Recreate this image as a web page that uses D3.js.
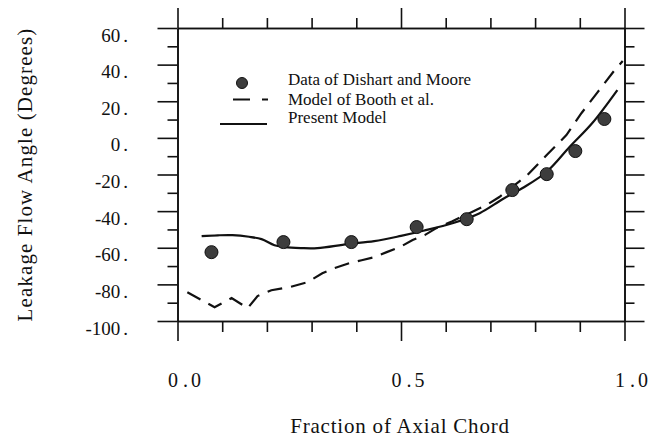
<!DOCTYPE html>
<html>
<head>
<meta charset="utf-8">
<script src="https://cdn.jsdelivr.net/npm/d3@7/dist/d3.min.js"></script>
<style>
  body { margin: 0; background: #fff; }
  svg { display: block; }
  text { font-family: "Liberation Serif", "Times New Roman", serif; fill: #111; }
</style>
</head>
<body>
<svg id="chart" width="659" height="438"></svg>
<script>
// Data of Dishart and Moore (measured points)
const dishartX = [0.076, 0.237, 0.389, 0.535, 0.647, 0.749, 0.826, 0.890, 0.955];
const dishartY = [-62.4, -56.9, -56.9, -48.7, -44.4, -28.5, -19.8, -7.2, 10.3];

// Model of Booth et al. (dashed)
const boothX = [0.022, 0.083, 0.121, 0.157, 0.179, 0.21, 0.251, 0.291, 0.324, 0.351, 0.385, 0.412,
  0.441, 0.468, 0.497, 0.526, 0.553, 0.579, 0.615, 0.653, 0.691, 0.72, 0.783, 0.826, 0.870, 0.904,
  0.940, 0.978, 0.996];
const boothY = [-84.3, -92.5, -87.5, -93.0, -86.4, -83.2, -81.5, -78.8, -73.9, -71.1, -68.4, -66.8,
  -65.1, -62.4, -59.7, -55.8, -53.1, -49.3, -45.5, -41.1, -36.7, -32.3, -20.3, -9.4, 1.5, 13.6,
  25.0, 37.0, 42.0];

// Present Model (solid)
const presentX = [0.054, 0.09, 0.123, 0.16, 0.188, 0.217, 0.24, 0.277, 0.313, 0.38, 0.44, 0.50,
  0.55, 0.615, 0.676, 0.727, 0.772, 0.826, 0.877, 0.928, 0.984];
const presentY = [-53.7, -53.2, -53.1, -54.0, -55.3, -58.6, -59.7, -60.2, -60.2, -58.0, -56.4, -53.5,
  -50.7, -46.6, -41.1, -33.5, -27.4, -18.5, -5.0, 8.1, 26.1];

const xLabelTicks = [0, 0.5, 1.0];
const xLabels = ["0.0", "0.5", "1.0"];
const xMinorTicks = d3.range(0, 11).map(i => i / 10);
const yMajorTicks = [60, 40, 20, 0, -20, -40, -60, -80, -100];
const yLabels = ["60", "40", "20", "0", "-20", "-40", "-60", "-80", "-100"];
const yMinorTicks = [50, 30, 10, -10, -30, -50, -70, -90];
const legendLabels = ["Data of Dishart and Moore", "Model of Booth et al.", "Present Model"];

const svg = d3.select("#chart");
const x = d3.scaleLinear().domain([0, 1]).range([177.5, 624.5]);
const y = d3.scaleLinear().domain([-100, 60]).range([321, 28]);

const xMajor = [0, 0.5, 1];
const xMinor = xMinorTicks.filter(v => !xMajor.some(m => Math.abs(m - v) < 1e-9));

const frame = svg.append("g").attr("class", "frame");

// tick-only axes on all four sides, ticks pointing outward
const addAxis = (gen, transform) => {
  const g = frame.append("g").attr("transform", transform).call(gen);
  g.selectAll("text").remove();
  g.selectAll("path, line").attr("stroke", "#111").attr("stroke-width", 1.6);
  return g;
};

addAxis(d3.axisTop(x).tickValues(xMajor).tickSize(20).tickSizeOuter(0), `translate(0,${y(60)})`);
addAxis(d3.axisTop(x).tickValues(xMinor).tickSize(10).tickSizeOuter(0), `translate(0,${y(60)})`);
addAxis(d3.axisBottom(x).tickValues(xMajor).tickSize(20).tickSizeOuter(0), `translate(0,${y(-100)})`);
addAxis(d3.axisBottom(x).tickValues(xMinor).tickSize(11).tickSizeOuter(0), `translate(0,${y(-100)})`);
addAxis(d3.axisLeft(y).tickValues(yMajorTicks).tickSize(20).tickSizeOuter(0), `translate(${x(0)},0)`);
addAxis(d3.axisLeft(y).tickValues(yMinorTicks).tickSize(10).tickSizeOuter(0), `translate(${x(0)},0)`);
addAxis(d3.axisRight(y).tickValues(yMajorTicks).tickSize(20).tickSizeOuter(0), `translate(${x(1)},0)`);
addAxis(d3.axisRight(y).tickValues(yMinorTicks).tickSize(10).tickSizeOuter(0), `translate(${x(1)},0)`);

// y tick labels, e.g. "60 ."
yMajorTicks.forEach((v, i) => {
  const t = svg.append("text")
    .attr("x", 128)
    .attr("y", y(v) + 13.5)
    .attr("text-anchor", "end")
    .attr("font-size", 19);
  t.append("tspan").text(yLabels[i]);
  t.append("tspan").attr("dx", 3).text(".");
});

// x tick labels, e.g. "0 . 0"
xLabelTicks.forEach((v, i) => {
  const parts = xLabels[i].split(".");
  const t = svg.append("text")
    .attr("x", x(v) + 7)
    .attr("y", 387)
    .attr("text-anchor", "middle")
    .attr("font-size", 20);
  t.append("tspan").text(parts[0]);
  t.append("tspan").attr("dx", 5).text(".");
  t.append("tspan").attr("dx", 3).text(parts[1]);
});

// axis titles
svg.append("text")
  .attr("x", 400)
  .attr("y", 433)
  .attr("text-anchor", "middle")
  .attr("font-size", 21)
  .attr("letter-spacing", 0.8)
  .text("Fraction of Axial Chord");

svg.append("text")
  .attr("transform", `translate(32,${(y(60) + y(-100)) / 2}) rotate(-90)`)
  .attr("text-anchor", "middle")
  .attr("font-size", 21)
  .attr("letter-spacing", 1.1)
  .text("Leakage Flow Angle (Degrees)");

// series
const plot = svg.append("g").attr("class", "plot");

const booth = boothX.map((v, i) => [v, boothY[i]]);
const present = presentX.map((v, i) => [v, presentY[i]]);
const dishart = dishartX.map((v, i) => [v, dishartY[i]]);

plot.append("path")
  .datum(booth)
  .attr("fill", "none")
  .attr("stroke", "#111")
  .attr("stroke-width", 2.2)
  .attr("stroke-dasharray", "15,9")
  .attr("d", d3.line().x(d => x(d[0])).y(d => y(d[1])));

plot.append("path")
  .datum(present)
  .attr("fill", "none")
  .attr("stroke", "#111")
  .attr("stroke-width", 2.2)
  .attr("d", d3.line().curve(d3.curveCatmullRom).x(d => x(d[0])).y(d => y(d[1])));

plot.selectAll("circle.pt")
  .data(dishart)
  .enter()
  .append("circle")
  .attr("class", "pt")
  .attr("cx", d => x(d[0]))
  .attr("cy", d => y(d[1]))
  .attr("r", 6.5)
  .attr("fill", "#3d3d3d")
  .attr("stroke", "#111")
  .attr("stroke-width", 1);

// legend
const legend = svg.append("g").attr("class", "legend");
legend.append("circle").attr("cx", 242).attr("cy", 83).attr("r", 5.5)
  .attr("fill", "#3d3d3d").attr("stroke", "#111").attr("stroke-width", 1);
legend.append("line").attr("x1", 233).attr("x2", 268).attr("y1", 99.5).attr("y2", 99.5)
  .attr("stroke", "#111").attr("stroke-width", 2.2).attr("stroke-dasharray", "17,12,6");
legend.append("line").attr("x1", 220).attr("x2", 267).attr("y1", 124).attr("y2", 124)
  .attr("stroke", "#111").attr("stroke-width", 2);

[85, 104.5, 123].forEach((by, i) => {
  legend.append("text")
    .attr("x", 288)
    .attr("y", by)
    .attr("font-size", 17)
    .text(legendLabels[i]);
});
</script>
</body>
</html>
